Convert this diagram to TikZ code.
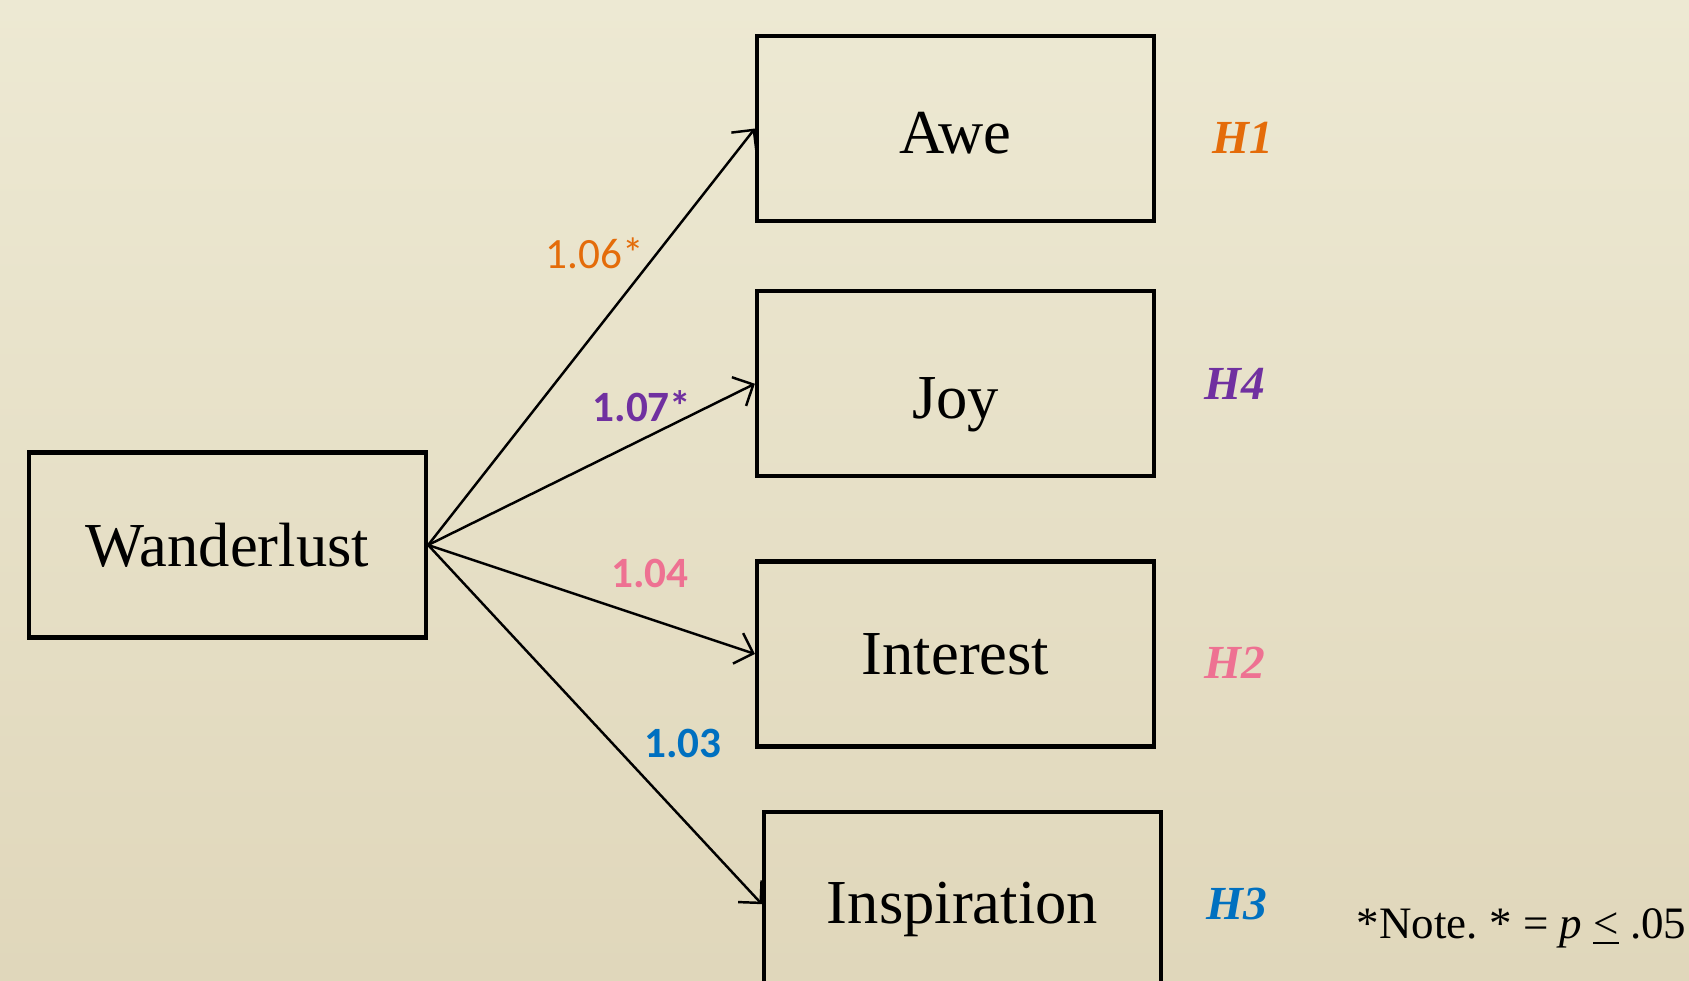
\documentclass[tikz,border=0pt]{standalone}
\usepackage{fontspec}
\setmainfont{Liberation Serif}
\newfontfamily\calfont{Carlito}
\usepackage{tikz}
\usetikzlibrary{arrows.meta,positioning}
\definecolor{aweorange}{RGB}{228,108,10}
\definecolor{joypurple}{RGB}{112,48,160}
\definecolor{intpink}{RGB}{238,113,146}
\definecolor{insblue}{RGB}{0,112,192}
\definecolor{bgtop}{RGB}{237,233,211}
\definecolor{bgbot}{RGB}{224,215,187}
\frenchspacing
\newcommand{\lowertxt}[2]{\raisebox{0pt}[\dimexpr\height+#1\relax][\depth]{#2}}
\tikzset{
        block/.style = {draw, rectangle, line width=1.2pt,
            minimum height=1.85cm,
            minimum width=3.97cm,
            font=\fontsize{17.8}{20}\selectfont},
        arrow/.style={draw, line width=0.7pt, -{Straight Barb[length=1.6mm,width=3.2mm]}},
        coef/.style = {font=\calfont\fontsize{12.3}{14}\selectfont, inner sep=0pt},
        hyp/.style = {font=\fontsize{13.5}{16}\selectfont\bfseries\itshape, inner sep=0pt},
    }

\begin{document}
\begin{tikzpicture}
    \clip (0,0) rectangle (16.89,-9.80);
    \shade[top color=bgtop, bottom color=bgbot] (0,0) rectangle (16.89,-9.80);

    \node[block] (wl) at (2.275,-5.45) {Wanderlust};
    \node[block] (awe) at (9.555,-1.285) {\lowertxt{1mm}{Awe}};
    \node[block, below=0.66cm of awe] (joy) {\lowertxt{4.3mm}{Joy}};
    \node[block, below=0.81cm of joy] (int) {Interest};
    \node[block, below=0.61cm of int, xshift=0.7mm] (ins) {\lowertxt{1mm}{Inspiration}};

    %\node[hyp] at (12.41,-1.38) {H1};
    \node[hyp, text=aweorange, right=0.56cm of awe, yshift=-0.9mm] (h1) {H1};
    \node[hyp, text=joypurple, right=0.48cm of joy] (h4) {H4};
    \node[hyp, text=intpink, right=0.48cm of int, yshift=-0.9mm] (h2) {H2};
    \node[hyp, text=insblue, right=0.43cm of ins] (h3) {H3};

    \draw[arrow] (wl.east) -- (awe.west);
    \draw[arrow] (wl.east) -- (joy.west);
    \draw[arrow] (wl.east) -- (int.west);
    \draw[arrow] (wl.east) -- (ins.west);

    \node[coef, text=aweorange] (c1) at (5.95,-2.53) {1.06*};
    \node[coef, text=joypurple, font=\calfont\fontsize{12.3}{14}\selectfont\bfseries] (c4) at (6.42,-4.06) {1.07*};
    \node[coef, text=intpink, font=\calfont\fontsize{12.3}{14}\selectfont\bfseries] (c2) at (6.50,-5.73) {1.04};
    \node[coef, text=insblue, font=\calfont\fontsize{12.3}{14}\selectfont\bfseries] (c3) at (6.83,-7.43) {1.03};

    \node[anchor=east, inner sep=0pt, font=\fontsize{12.8}{15}\selectfont] (note) at (16.87,-9.28) {*Note. * = \textit{p} \underline{<} .05};
\end{tikzpicture}
\end{document}
